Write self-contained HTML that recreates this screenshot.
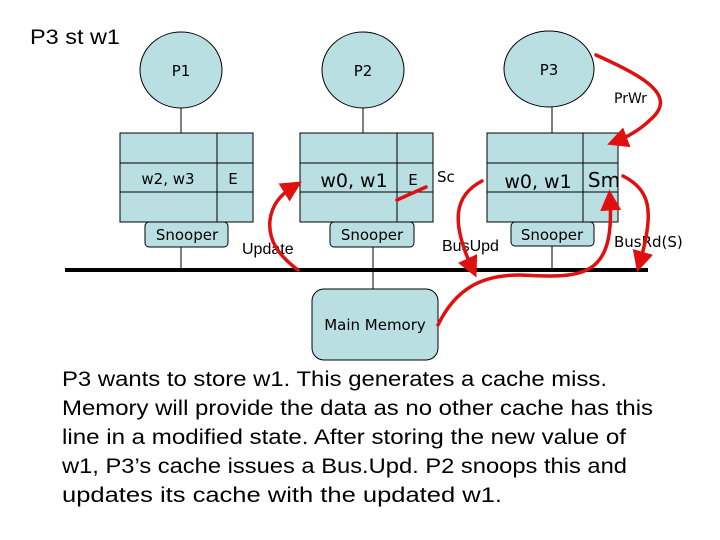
<!DOCTYPE html>
<html><head><meta charset="utf-8"><style>
body{margin:0;background:#fff;width:720px;height:540px;overflow:hidden}
svg{display:block}
.t{font-family:"DejaVu Sans","Liberation Sans",sans-serif;fill:#000}
.a{font-family:"Liberation Sans",Arial,sans-serif;fill:#000}
</style></head><body>
<svg width="720" height="540" viewBox="0 0 720 540">
<defs><marker id="ar" markerWidth="6" markerHeight="6" refX="3" refY="3" orient="auto" markerUnits="strokeWidth"><path d="M0,0 L6,3 L0,6 z" fill="#e01010"/></marker></defs>
<text x="30" y="44" class="a" font-size="21" textLength="90" lengthAdjust="spacingAndGlyphs">P3 st w1</text>
<g stroke="#000" stroke-width="1" fill="#b9dfe3">
<line x1="181" y1="108" x2="181" y2="133"/><line x1="363" y1="108" x2="363" y2="133"/><line x1="552" y1="107" x2="552" y2="133"/>
<line x1="181" y1="247" x2="181" y2="270"/><line x1="373" y1="247" x2="373" y2="290"/><line x1="552" y1="246" x2="552" y2="270"/>
<ellipse cx="181" cy="70" rx="41" ry="38"/><ellipse cx="363" cy="70" rx="41" ry="38"/><ellipse cx="549" cy="69" rx="45" ry="38"/>
<rect x="120" y="133" width="133" height="89"/><line x1="217" y1="133" x2="217" y2="222"/><line x1="120" y1="163" x2="253" y2="163"/><line x1="120" y1="192" x2="253" y2="192"/>
<rect x="300" y="133" width="133" height="89"/><line x1="397" y1="133" x2="397" y2="222"/><line x1="300" y1="163" x2="433" y2="163"/><line x1="300" y1="192" x2="433" y2="192"/>
<rect x="487" y="133" width="131" height="89"/><line x1="583" y1="133" x2="583" y2="222"/><line x1="487" y1="163" x2="618" y2="163"/><line x1="487" y1="192" x2="618" y2="192"/>
<rect x="145" y="222" width="83" height="25" rx="4"/><rect x="330" y="222" width="84" height="25" rx="4"/><rect x="511" y="222" width="83" height="24" rx="4"/>
<rect x="312" y="289" width="126" height="71" rx="12"/>
</g>
<line x1="65" y1="270" x2="648" y2="270" stroke="#000" stroke-width="4"/>
<g class="t" font-size="15" text-anchor="middle">
<text x="181" y="76">P1</text><text x="363" y="76">P2</text><text x="549" y="75">P3</text>
<text x="168" y="184">w2, w3</text><text x="233" y="184">E</text>
<text x="354" y="187" font-size="19">w0, w1</text><text x="413" y="185">E</text>
<text x="538" y="188" font-size="19">w0, w1</text><text x="604" y="187" font-size="20">Sm</text>
<text x="187" y="240">Snooper</text><text x="372" y="240">Snooper</text><text x="552" y="240">Snooper</text>
<text x="375" y="330">Main Memory</text>
</g>
<g class="t" font-size="14"><text x="614" y="103">PrWr</text><text x="437" y="182" font-size="15">Sc</text><text x="614" y="247" font-size="15">BusRd(S)</text></g>
<g class="a" font-size="16"><text x="242" y="254">Update</text><text x="442" y="251">BusUpd</text></g>
<g fill="none" stroke="#e01010" stroke-width="3.5" stroke-linecap="round">
<path d="M596,55 C640,75 680,95 650,120 C640,130 625,138 617,141" marker-end="url(#ar)"/>
<path d="M623,176 C650,190 655,210 640,262" marker-end="url(#ar)"/>
<path d="M482,181 C455,195 450,220 472,268" marker-end="url(#ar)"/>
<path d="M438,325 C455,290 480,275 520,275 C580,278 615,280 610,200" marker-end="url(#ar)"/>
<path d="M397,200 L426,187"/>
<path d="M298,270 C278,255 268,240 270,220 C272,205 280,195 293,187" marker-end="url(#ar)"/>
</g>
<g class="a" font-size="21">
<text x="62" y="386" textLength="545" lengthAdjust="spacingAndGlyphs">P3 wants to store w1. This generates a cache miss.</text>
<text x="62" y="415" textLength="591" lengthAdjust="spacingAndGlyphs">Memory will provide the data as no other cache has this</text>
<text x="62" y="444" textLength="564" lengthAdjust="spacingAndGlyphs">line in a modified state. After storing the new value of</text>
<text x="62" y="473" textLength="565" lengthAdjust="spacingAndGlyphs">w1, P3’s cache issues a Bus.Upd. P2 snoops this and</text>
<text x="62" y="502" textLength="440" lengthAdjust="spacingAndGlyphs">updates its cache with the updated w1.</text>
</g>
</svg>
</body></html>
